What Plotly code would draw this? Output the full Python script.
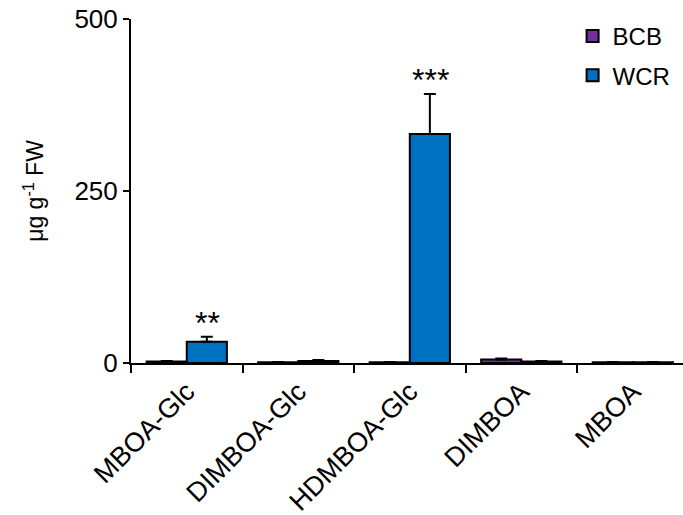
import plotly.graph_objects as go

categories = ["MBOA-Glc", "DIMBOA-Glc", "HDMBOA-Glc", "DIMBOA", "MBOA"]
bcb_values = [2, 1, 1, 5, 1]
bcb_errors = [1, 0.5, 0.5, 1.5, 0.5]
wcr_values = [31, 3, 333, 2, 1]
wcr_errors = [7, 1.5, 58, 1, 0.5]
y_ticks = [0, 250, 500]
sig_labels = ["**", "", "***", "", ""]

FONT = "Liberation Sans, Arial"

fig = go.Figure()
fig.add_trace(go.Bar(
    name="BCB", x=categories, y=bcb_values, legendgroup="bcb",
    marker=dict(color="#7030A0", line=dict(color="black", width=2)),
    error_y=dict(type="data", array=bcb_errors, arrayminus=[0] * len(bcb_errors),
                 symmetric=False, visible=True, color="black", thickness=2, width=6),
))
fig.add_trace(go.Bar(
    name="WCR", x=categories, y=wcr_values, legendgroup="wcr",
    marker=dict(color="#0070C0", line=dict(color="black", width=2)),
    error_y=dict(type="data", array=wcr_errors, arrayminus=[0] * len(wcr_errors),
                 symmetric=False, visible=True, color="black", thickness=2, width=6),
))

for i, lab in enumerate(sig_labels):
    if lab:
        fig.add_annotation(
            x=categories[i], y=wcr_values[i] + wcr_errors[i], text=lab,
            xshift=21, yshift=-6, yanchor="bottom", showarrow=False,
            font=dict(size=32, color="black", family=FONT),
        )

fig.update_layout(
    width=683, height=515,
    margin=dict(l=131, r=0, t=19, b=152, autoexpand=False),
    paper_bgcolor="white", plot_bgcolor="white",
    barmode="group", bargap=0.28, bargroupgap=0.0,
    font=dict(family=FONT, size=24, color="black"),
    legend=dict(x=0.80, xanchor="left", y=1.015, yanchor="top",
                font=dict(size=24), itemwidth=30, traceorder="grouped",
                tracegroupgap=5, bgcolor="rgba(0,0,0,0)"),
    showlegend=True,
)
fig.update_xaxes(
    type="category", range=[-0.5, 4.45], tickson="boundaries", ticks="outside", ticklen=8,
    tickwidth=2, tickcolor="black", showline=True, linecolor="black",
    linewidth=2, tickangle=-45, showgrid=False, tickfont=dict(size=27),
    automargin=False,
)
fig.update_yaxes(
    range=[0, 500], tickvals=y_ticks, ticks="outside", ticklen=6,
    tickwidth=2, tickcolor="black", showline=True, linecolor="black",
    linewidth=2, showgrid=False, zeroline=False, tickfont=dict(size=26),
    title=dict(text="μg g<sup>-1</sup> FW", font=dict(size=23), standoff=24),
    automargin=False,
)

fig.write_html(
    "out.html",
    config={"displayModeBar": False},
    post_script="document.body.style.margin='0';document.body.style.overflow='hidden';",
)
